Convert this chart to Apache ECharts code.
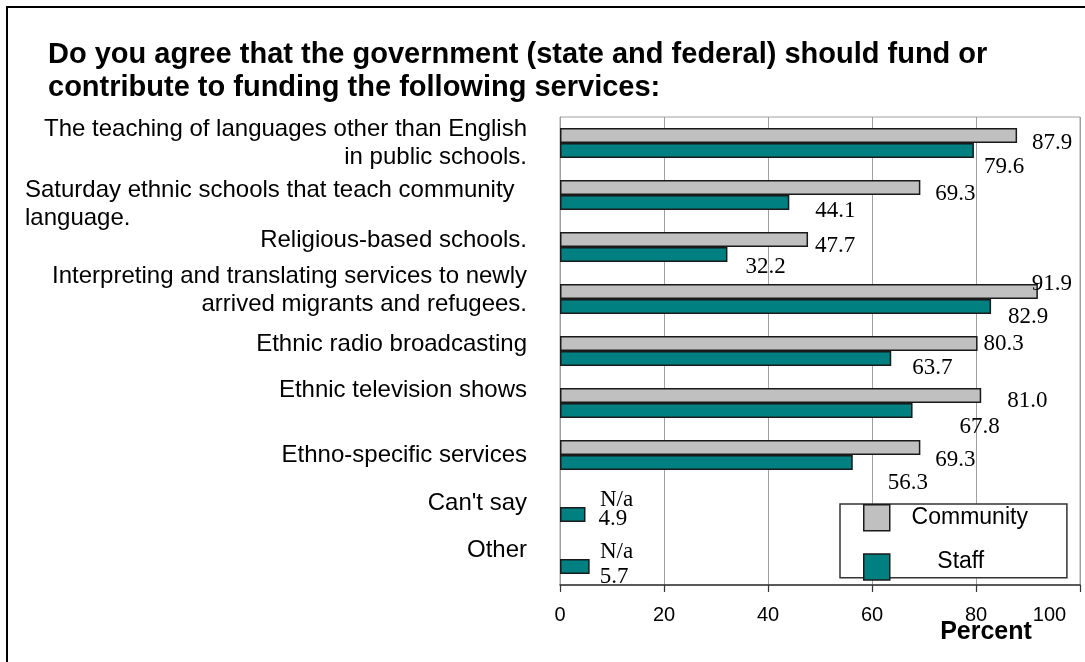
<!DOCTYPE html>
<html><head><meta charset="utf-8">
<script src="https://cdn.jsdelivr.net/npm/echarts@6/dist/echarts.min.js"></script>
<style>html,body{margin:0;padding:0;background:#fff}#c{width:1085px;height:662px}</style>
</head><body><div id="c"></div>
<script>
// ---- data ----
const categories = [
  "The teaching of languages other than English\nin public schools.",
  "Saturday ethnic schools that teach community\nlanguage.",
  "Religious-based schools.",
  "Interpreting and translating services to newly\narrived migrants and refugees.",
  "Ethnic radio broadcasting",
  "Ethnic television shows",
  "Ethno-specific services",
  "Can't say",
  "Other"
];
const seriesNames = ["Community", "Staff"];
const community = [87.9, 69.3, 47.7, 91.9, 80.3, 81.0, 69.3, null, null];
const staff = [79.6, 44.1, 32.2, 82.9, 63.7, 67.8, 56.3, 4.9, 5.7];
const xTicks = [0, 20, 40, 60, 80, 100];
const axisName = "Percent";
const titleText = "Do you agree that the government (state and federal) should fund or\ncontribute to funding the following services:";

// ---- styling (label nudges, alignment) ----
const SANS = "'Liberation Sans', Arial, sans-serif";
const SERIF = "'Liberation Serif', 'Times New Roman', serif";
const catLabelShift = [0, 9, -7, -9, -7, -13, 0, -4, -9];
const leftAlignedCats = [1];
// label placement per bar: [position, dx, dy]
const communityLabelNudge = [["right",15,7],["right",15,6],["right",7,6],["insideRight",34,-8],["right",6,0],["right",26,5],["right",15,12],["right",40,0],["right",40,0]];
const staffLabelNudge = [["right",10,16],["right",26,8],["right",18,12],["right",17,10],["right",21,9],["right",47,16],["right",35,20],["right",13,4],["right",10,10]];

const catData = categories.map((c, i) => {
  const dy = catLabelShift[i];
  const pad = dy > 0 ? [2 * dy, 0, 0, 0] : (dy < 0 ? [0, 0, -2 * dy, 0] : [0, 0, 0, 0]);
  return { value: c, textStyle: { padding: pad } };
});
const catRich = { l: { fontFamily: SANS, fontSize: 24, color: "#000", lineHeight: 28, width: 502, align: "left" } };
const lbl = n => ({ position: n[0], offset: [n[1], n[2]] });

const chart = echarts.init(document.getElementById("c"), null, { renderer: "canvas" });
const option = {
  animation: false,
  backgroundColor: "#fff",
  graphic: [{
    type: "rect", silent: true, z: -10,
    shape: { x: 7, y: 7, width: 1300, height: 900 },
    style: { fill: "none", stroke: "#000", lineWidth: 2 }
  }],
  title: {
    text: titleText, left: 48, top: 38, padding: 0,
    textStyle: { fontFamily: SANS, fontSize: 29, fontWeight: "bold", color: "#000", lineHeight: 33 }
  },
  legend: {
    data: seriesNames, orient: "vertical", left: 840, top: 504,
    padding: [0, 39, -3, 23], itemWidth: 26, itemHeight: 26, itemGap: 19,
    backgroundColor: "#fff", borderColor: "#333", borderWidth: 1.5,
    icon: "rect",
    itemStyle: { borderColor: "#1a1a1a", borderWidth: 1.5 },
    formatter: n => n === seriesNames[1] ? "{s|" + n + "}" : "{c|" + n + "}",
    textStyle: {
      fontFamily: SANS, fontSize: 23, color: "#000",
      rich: {
        c: { width: 150, align: "center", fontFamily: SANS, fontSize: 23, color: "#000" },
        s: { width: 132, align: "center", fontFamily: SANS, fontSize: 23, color: "#000", padding: [0, 0, 10, 0] }
      }
    }
  },
  grid: {
    left: 560, top: 117, width: 520, height: 468, show: true,
    borderColor: "#a0a0a0", borderWidth: 1, containLabel: false, outerBoundsMode: "none"
  },
  xAxis: {
    type: "value", min: xTicks[0], max: xTicks[xTicks.length - 1], interval: xTicks[1] - xTicks[0],
    name: axisName, nameLocation: "end", nameGap: -94, nameMoveOverlap: false,
    nameTextStyle: { fontFamily: SANS, fontSize: 25, fontWeight: "bold", color: "#000", align: "center", verticalAlign: "top", padding: [35, 0, 0, 0] },
    axisLine: { show: true, lineStyle: { color: "#333", width: 1.5 } },
    axisTick: { show: true, length: 7, lineStyle: { color: "#333", width: 1.2 } },
    axisLabel: {
      fontFamily: SANS, fontSize: 20, color: "#000", margin: 20,
      formatter: v => v === xTicks[xTicks.length - 1] ? "{h|" + v + "}" : String(v),
      rich: { h: { fontFamily: SANS, fontSize: 20, color: "#000", padding: [0, 61, 0, 0] } }
    },
    splitLine: { show: true, lineStyle: { color: "#a0a0a0", width: 1 } }
  },
  yAxis: {
    type: "category", inverse: true, data: catData,
    axisLine: { show: true, lineStyle: { color: "#a0a0a0", width: 1 } },
    axisTick: { show: false },
    splitLine: { show: false },
    axisLabel: {
      interval: 0, hideOverlap: false, margin: 33, fontFamily: SANS, fontSize: 24, lineHeight: 28, color: "#000",
      formatter: (v, i) => leftAlignedCats.indexOf(i) >= 0
        ? v.split("\n").map(s => "{l|" + s + "}").join("\n")
        : v,
      rich: catRich
    }
  },
  series: [
    {
      name: seriesNames[0], type: "bar", barWidth: 15, barGap: "0%",
      itemStyle: { color: "#c0c0c0", borderColor: "#1a1a1a", borderWidth: 1.5 },
      label: {
        show: true, position: "right", distance: 0, fontFamily: SERIF, fontSize: 23, color: "#000",
        formatter: p => community[p.dataIndex] == null ? "N/a" : Number(p.value).toFixed(1)
      },
      data: community.map((v, i) => v == null
        ? { value: 0, itemStyle: { color: "rgba(0,0,0,0)", borderWidth: 0 }, label: lbl(communityLabelNudge[i]) }
        : { value: v, label: lbl(communityLabelNudge[i]) })
    },
    {
      name: seriesNames[1], type: "bar", barWidth: 15, barGap: "0%",
      itemStyle: { color: "#008080", borderColor: "#1a1a1a", borderWidth: 1.5 },
      label: {
        show: true, position: "right", distance: 0, fontFamily: SERIF, fontSize: 23, color: "#000",
        formatter: p => Number(p.value).toFixed(1)
      },
      data: staff.map((v, i) => ({ value: v, label: lbl(staffLabelNudge[i]) }))
    }
  ]
};
chart.setOption(option);
</script></body></html>
